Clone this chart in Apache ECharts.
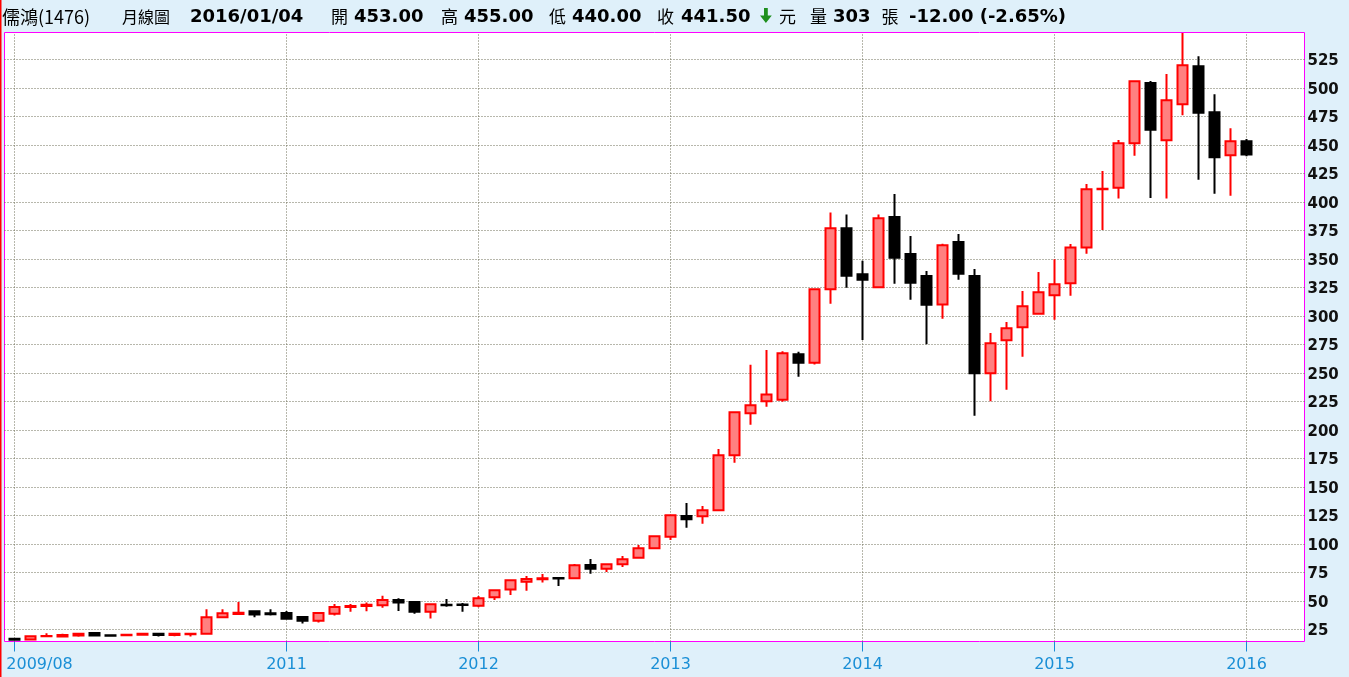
<!DOCTYPE html>
<html>
<head>
<meta charset="utf-8">
<script src="https://cdn.jsdelivr.net/npm/echarts@6/dist/echarts.min.js"></script>
<style>
html,body{margin:0;padding:0;background:#dff0fa;}
#c{width:1349px;height:677px;}
</style>
</head>
<body>
<div id="c"></div>
<script>
// ---- data ----
const months = [
  '2009/08','2009/09','2009/10','2009/11','2009/12',
  '2010/01','2010/02','2010/03','2010/04','2010/05','2010/06','2010/07','2010/08','2010/09','2010/10','2010/11','2010/12',
  '2011/01','2011/02','2011/03','2011/04','2011/05','2011/06','2011/07','2011/08','2011/09','2011/10','2011/11','2011/12',
  '2012/01','2012/02','2012/03','2012/04','2012/05','2012/06','2012/07','2012/08','2012/09','2012/10','2012/11','2012/12',
  '2013/01','2013/02','2013/03','2013/04','2013/05','2013/06','2013/07','2013/08','2013/09','2013/10','2013/11','2013/12',
  '2014/01','2014/02','2014/03','2014/04','2014/05','2014/06','2014/07','2014/08','2014/09','2014/10','2014/11','2014/12',
  '2015/01','2015/02','2015/03','2015/04','2015/05','2015/06','2015/07','2015/08','2015/09','2015/10','2015/11','2015/12',
  '2016/01'
];
const openV = [
  16.8,16,18.8,18.6,19.6,
  21.8,19.8,19.8,20.2,21,19.9,20.6,21,35.5,38.5,40.8,39,
  39.3,35.8,32.5,38.7,44.6,45.5,46,50.7,49,40.4,46.6,46.8,
  45.7,53.1,60,66.8,69,70,69.7,81.4,78.2,82,87.8,96,
  106.2,124.4,124.1,129.4,177.6,214.5,225,226.4,266.2,258.9,323.2,376.8,
  336.4,325,386.7,354.2,334.9,310,364.7,334.9,249.6,278.5,290,301.8,
  318,328.5,360,411,412.4,451.3,504.2,454,485.5,518.9,478.5,440.8,
  453
];
const closeV = [
  15.8,19,19.2,20,21,
  19.6,19.3,20.2,21.2,20,21,21,35.5,39,39.5,38,38.2,
  34.3,32.5,39.3,44.6,45.5,46.5,50.7,48.6,40.4,46.9,46.1,46.4,
  52.2,59.2,68,69.1,69.8,69.6,81.1,78.2,82,86.4,96,106.6,
  125,121.5,129.4,177.6,215.4,221.5,231,267.1,258.9,323.2,376.8,335.2,
  331.7,385.5,351,329,309.7,361.8,336.9,249.6,275.9,289,308.3,320.6,
  327.6,360,411,411.5,451.3,505.7,463.2,489,519.7,478.2,439,453,
  441.5
];
const lowV = [
  15,15.8,18,18,18.4,
  19.4,18.5,19.4,19.4,18.6,18.8,18.7,20.6,35,38,35.6,37,
  34,30,31,37,40.5,40.8,44,41,38.7,34.5,44.8,40.4,
  44.3,50.7,55,58.9,66,63,69.5,73.8,75.3,79.6,87,96,
  103.3,114,117.6,129,171,204.5,220.3,224.6,246.6,257.3,310.6,324.7,
  278.8,324.5,328.2,314,275,297.4,331.7,212.4,225,235.2,264.1,301.5,
  296.6,317.6,354.5,375.3,402.8,440.4,403.4,402.8,475.9,419.4,407.1,405.4,
  440
];
const highV = [
  17.2,19.2,21.5,21,21.3,
  22,19.9,20.8,22,21.2,21.2,21.2,42.5,42.5,49,41,42.5,
  41,36,39.5,47.3,47.3,48.6,54.5,52.2,49.5,47.8,51.6,48,
  54.2,59.5,69,71.8,73.5,70.6,82.3,86.7,82.2,89.3,99,107,
  125.2,135.8,133.2,183.2,215.6,257,270,269,268.5,324,390.5,388.8,
  348.2,388.8,406.8,370,339.3,363.2,371.7,341,285,294.6,321.8,338.4,
  349.6,363,415.5,427,454.2,506,506,512,548,527.6,494.3,464.5,
  455
];
const xTickMonths = ['2009/08','2011/01','2012/01','2013/01','2014/01','2015/01','2016/01'];
const xTickLabels = ['2009/08','2011','2012','2013','2014','2015','2016'];
const yTicks = [25,50,75,100,125,150,175,200,225,250,275,300,325,350,375,400,425,450,475,500,525];

// ---- build ----
const xTickIdx = xTickMonths.map(m => months.indexOf(m));
const candleData = months.map((m, i) => [i, openV[i], closeV[i], lowV[i], highV[i]]);
const gridLines = xTickIdx.map(i => ({xAxis: i})).concat(yTicks.map(v => ({yAxis: v})));

const cjk = "'Noto Sans CJK TC'";
const boldNum = "bold 18px 'DejaVu Sans'";
function t(x, y, text, font, fill) {
  return {type:'text', x:x, y:y, silent:true, style:{text:text, font:font, fill:fill||'#000', verticalAlign:'middle', align:'left'}};
}
const header = [
  t(2, 16.7, '儒鴻(1476)', "normal 18px " + cjk),
  t(122, 16.7, '月線圖', "normal 16px " + cjk),
  t(190, 17.5, '2016/01/04', boldNum),
  t(331, 16.7, '開', "normal 17px " + cjk),
  t(354, 17.5, '453.00', boldNum),
  t(441, 16.7, '高', "normal 17px " + cjk),
  t(464, 17.5, '455.00', boldNum),
  t(549, 16.7, '低', "normal 17px " + cjk),
  t(572, 17.5, '440.00', boldNum),
  t(657, 16.7, '收', "normal 17px " + cjk),
  t(681, 17.5, '441.50', boldNum),
  t(779, 16.7, '元', "normal 17px " + cjk),
  t(810, 16.7, '量', "normal 17px " + cjk),
  t(833, 17.5, '303', boldNum),
  t(881.5, 16.7, '張', "normal 17px " + cjk),
  t(909, 17.5, '-12.00 (-2.65%)', boldNum),
  {type:'polygon', silent:true, shape:{points:[[764,8],[767.8,8],[767.8,15.5],[771.8,15.5],[765.9,23],[760,15.5],[764,15.5]]}, style:{fill:'#1e8f1e'}},
  {type:'rect', silent:true, shape:{x:0,y:0,width:1.5,height:677}, style:{fill:'#ff0000'}}
];

const chart = echarts.init(document.getElementById('c'), null, {renderer:'canvas'});
chart.setOption({
  backgroundColor:'#dff0fa',
  animation:false,
  grid:{left:4.5, right:44.5, top:32.5, bottom:35.5, show:true, backgroundColor:'#ffffff', borderColor:'#ff00ff', borderWidth:1},
  xAxis:{
    type:'value', min:-0.625, max:80.625, position:'bottom',
    axisLine:{show:false},
    axisTick:{show:true, customValues:xTickIdx, length:10, lineStyle:{color:'#1a8ad4', width:1}},
    axisLabel:{
      customValues:xTickIdx, margin:15, color:'#1a8fd6', fontSize:16, fontFamily:'DejaVu Sans',
      formatter:function(v){
        const k = xTickIdx.indexOf(v);
        if (k === 0) return '{first|' + xTickLabels[k] + '}';
        return k >= 0 ? xTickLabels[k] : '';
      },
      rich:{first:{padding:[0,0,0,50], color:'#1a8fd6', fontSize:16, fontFamily:'DejaVu Sans'}}
    },
    splitLine:{show:false}
  },
  yAxis:{
    type:'value', position:'right', min:14.3, max:548.5,
    axisLine:{show:false},
    axisTick:{show:false, customValues:yTicks},
    axisLabel:{
      customValues:yTicks, margin:3, color:'#111', fontSize:15, fontWeight:'bold', fontFamily:'DejaVu Sans',
      formatter:function(v){ return '{n|' + v + '}'; },
      rich:{n:{padding:[4,0,0,0], color:'#111', fontSize:15, fontWeight:'bold', fontFamily:'DejaVu Sans'}}
    },
    splitLine:{show:false}
  },
  series:[{
    type:'candlestick',
    data:candleData,
    barWidth:11,
    itemStyle:{color:'#ff8080', color0:'#000000', borderColor:'#ff0000', borderColor0:'#000000', borderWidth:2},
    silent:true,
    markLine:{
      z:1, silent:true, symbol:['none','none'], label:{show:false},
      lineStyle:{type:[1,2], color:'#6f6f58', width:1},
      emphasis:{disabled:true},
      data:gridLines
    }
  }],
  graphic:header
});
</script>
</body>
</html>
